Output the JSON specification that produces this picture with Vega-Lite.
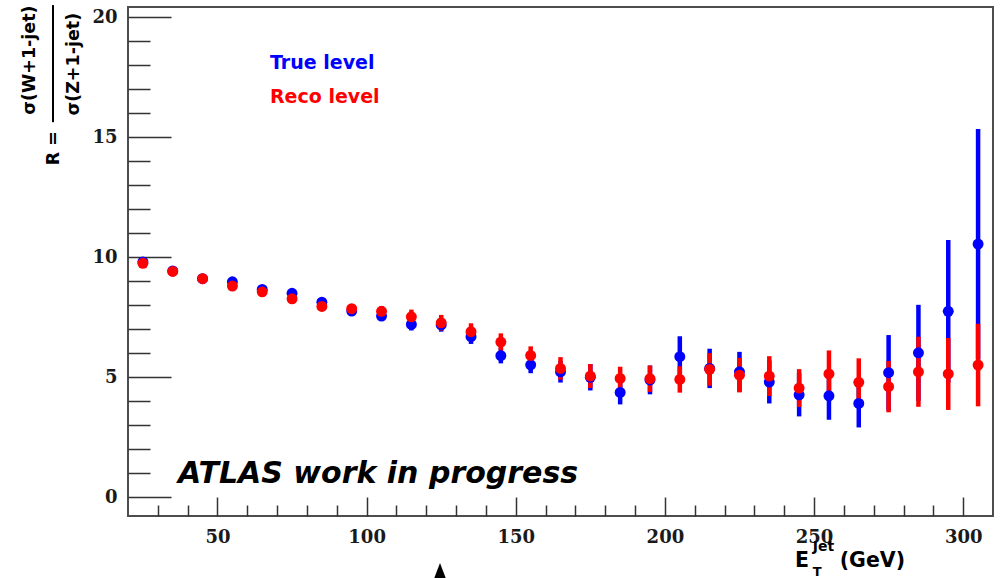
{
  "$schema": "https://vega.github.io/schema/vega-lite/v6.json",
  "width": 865,
  "height": 509,
  "autosize": {"type": "none"},
  "padding": {"left": 128, "top": 7, "right": 9, "bottom": 62},
  "background": "white",
  "config": {
    "view": {"stroke": "#4d4d4d", "strokeWidth": 2},
    "axis": {
      "domain": false,
      "grid": false,
      "tickColor": "#333333",
      "tickWidth": 1.5,
      "labelFont": "DejaVu Serif",
      "labelFontWeight": "bold",
      "labelFontSize": 18,
      "labelColor": "#1a1a1a"
    }
  },
  "data": {
    "values": [
      {"E": 25, "series": "True level", "R": 9.80, "err": 0.10},
      {"E": 35, "series": "True level", "R": 9.42, "err": 0.10},
      {"E": 45, "series": "True level", "R": 9.10, "err": 0.10},
      {"E": 55, "series": "True level", "R": 8.97, "err": 0.12},
      {"E": 65, "series": "True level", "R": 8.65, "err": 0.12},
      {"E": 75, "series": "True level", "R": 8.49, "err": 0.14},
      {"E": 85, "series": "True level", "R": 8.12, "err": 0.15},
      {"E": 95, "series": "True level", "R": 7.75, "err": 0.17},
      {"E": 105, "series": "True level", "R": 7.54, "err": 0.20},
      {"E": 115, "series": "True level", "R": 7.19, "err": 0.25},
      {"E": 125, "series": "True level", "R": 7.17, "err": 0.28},
      {"E": 135, "series": "True level", "R": 6.68, "err": 0.30},
      {"E": 145, "series": "True level", "R": 5.89, "err": 0.32},
      {"E": 155, "series": "True level", "R": 5.51, "err": 0.35},
      {"E": 165, "series": "True level", "R": 5.22, "err": 0.45},
      {"E": 175, "series": "True level", "R": 4.99, "err": 0.55},
      {"E": 185, "series": "True level", "R": 4.36, "err": 0.50},
      {"E": 195, "series": "True level", "R": 4.88, "err": 0.60},
      {"E": 205, "series": "True level", "R": 5.85, "err": 0.85},
      {"E": 215, "series": "True level", "R": 5.36, "err": 0.82},
      {"E": 225, "series": "True level", "R": 5.22, "err": 0.83},
      {"E": 235, "series": "True level", "R": 4.79, "err": 0.89},
      {"E": 245, "series": "True level", "R": 4.26, "err": 0.90},
      {"E": 255, "series": "True level", "R": 4.22, "err": 1.00},
      {"E": 265, "series": "True level", "R": 3.90, "err": 1.00},
      {"E": 275, "series": "True level", "R": 5.18, "err": 1.57},
      {"E": 285, "series": "True level", "R": 6.01, "err": 2.00},
      {"E": 295, "series": "True level", "R": 7.74, "err": 2.97},
      {"E": 305, "series": "True level", "R": 10.54, "err": 4.80},
      {"E": 25, "series": "Reco level", "R": 9.74, "err": 0.10},
      {"E": 35, "series": "Reco level", "R": 9.40, "err": 0.10},
      {"E": 45, "series": "Reco level", "R": 9.10, "err": 0.10},
      {"E": 55, "series": "Reco level", "R": 8.79, "err": 0.12},
      {"E": 65, "series": "Reco level", "R": 8.55, "err": 0.12},
      {"E": 75, "series": "Reco level", "R": 8.26, "err": 0.14},
      {"E": 85, "series": "Reco level", "R": 7.94, "err": 0.15},
      {"E": 95, "series": "Reco level", "R": 7.85, "err": 0.18},
      {"E": 105, "series": "Reco level", "R": 7.74, "err": 0.22},
      {"E": 115, "series": "Reco level", "R": 7.51, "err": 0.30},
      {"E": 125, "series": "Reco level", "R": 7.26, "err": 0.33},
      {"E": 135, "series": "Reco level", "R": 6.89, "err": 0.35},
      {"E": 145, "series": "Reco level", "R": 6.46, "err": 0.36},
      {"E": 155, "series": "Reco level", "R": 5.90, "err": 0.38},
      {"E": 165, "series": "Reco level", "R": 5.36, "err": 0.47},
      {"E": 175, "series": "Reco level", "R": 5.04, "err": 0.50},
      {"E": 185, "series": "Reco level", "R": 4.94, "err": 0.49},
      {"E": 195, "series": "Reco level", "R": 4.93, "err": 0.55},
      {"E": 205, "series": "Reco level", "R": 4.90, "err": 0.55},
      {"E": 215, "series": "Reco level", "R": 5.32, "err": 0.68},
      {"E": 225, "series": "Reco level", "R": 5.08, "err": 0.72},
      {"E": 235, "series": "Reco level", "R": 5.04, "err": 0.83},
      {"E": 245, "series": "Reco level", "R": 4.54, "err": 0.79},
      {"E": 255, "series": "Reco level", "R": 5.13, "err": 0.98},
      {"E": 265, "series": "Reco level", "R": 4.78, "err": 1.00},
      {"E": 275, "series": "Reco level", "R": 4.60, "err": 1.07},
      {"E": 285, "series": "Reco level", "R": 5.22, "err": 1.46},
      {"E": 295, "series": "Reco level", "R": 5.13, "err": 1.50},
      {"E": 305, "series": "Reco level", "R": 5.50, "err": 1.72}
    ]
  },
  "layer": [
    {
      "mark": {"type": "errorbar", "thickness": 4.5},
      "encoding": {
        "x": {
          "field": "E", "type": "quantitative",
          "scale": {"domain": [20, 310], "nice": false, "zero": false},
          "axis": {
            "title": null,
            "values": [30, 40, 50, 60, 70, 80, 90, 100, 110, 120, 130, 140, 150, 160, 170, 180, 190, 200, 210, 220, 230, 240, 250, 260, 270, 280, 290, 300],
            "tickCount": 1000,
            "format": "d",
            "tickSize": {"condition": {"test": "datum.value % 50 === 0", "value": -19}, "value": -11},
            "labelExpr": "datum.value % 50 === 0 ? datum.label : ''",
            "labelOverlap": false,
            "labelFlush": false,
            "labelPadding": 31,
            "labelAngle": 0
          }
        },
        "y": {
          "field": "R", "type": "quantitative",
          "scale": {"domain": [-0.79, 20.42], "nice": false, "zero": false},
          "axis": {
            "title": null,
            "values": [0, 1, 2, 3, 4, 5, 6, 7, 8, 9, 10, 11, 12, 13, 14, 15, 16, 17, 18, 19, 20],
            "tickCount": 1000,
            "format": "d",
            "tickSize": {"condition": {"test": "datum.value % 5 === 0", "value": -43}, "value": -22},
            "labelExpr": "datum.value % 5 === 0 ? datum.label : ''",
            "labelOverlap": false,
            "labelFlush": false,
            "labelPadding": 54
          }
        },
        "yError": {"field": "err"},
        "color": {
          "field": "series", "type": "nominal",
          "scale": {"domain": ["True level", "Reco level"], "range": ["#0000ff", "#ff0000"]},
          "legend": null
        }
      }
    },
    {
      "mark": {"type": "circle", "size": 120, "opacity": 1},
      "encoding": {
        "x": {"field": "E", "type": "quantitative"},
        "y": {"field": "R", "type": "quantitative"},
        "color": {"field": "series", "type": "nominal", "legend": null}
      }
    },
    {
      "data": {"values": [{"series": "True level"}]},
      "mark": {"type": "text", "font": "DejaVu Sans", "fontWeight": "bold", "fontSize": 19, "align": "left", "baseline": "alphabetic"},
      "encoding": {
        "x": {"datum": 67.6, "type": "quantitative"},
        "y": {"datum": 17.82, "type": "quantitative"},
        "text": {"field": "series"},
        "color": {"field": "series", "type": "nominal", "legend": null}
      }
    },
    {
      "data": {"values": [{"series": "Reco level"}]},
      "mark": {"type": "text", "font": "DejaVu Sans", "fontWeight": "bold", "fontSize": 19, "align": "left", "baseline": "alphabetic"},
      "encoding": {
        "x": {"datum": 67.6, "type": "quantitative"},
        "y": {"datum": 16.43, "type": "quantitative"},
        "text": {"field": "series"},
        "color": {"field": "series", "type": "nominal", "legend": null}
      }
    },
    {
      "data": {"values": [{"note": "ATLAS work in progress"}]},
      "mark": {"type": "text", "font": "DejaVu Sans", "fontWeight": "bold", "fontStyle": "italic", "fontSize": 30, "align": "left", "baseline": "alphabetic", "color": "#000000"},
      "encoding": {
        "x": {"datum": 36.8, "type": "quantitative"},
        "y": {"datum": 0.6, "type": "quantitative"},
        "text": {"field": "note"}
      }
    },
    {
      "data": {"values": [{"t": "σ(W+1-jet)"}]},
      "mark": {"type": "text", "font": "DejaVu Sans", "fontWeight": "bold", "fontSize": 17.5, "angle": 270, "align": "center", "baseline": "middle", "color": "#000000"},
      "encoding": {
        "x": {"datum": -12.8, "type": "quantitative"},
        "y": {"datum": 18.21, "type": "quantitative"},
        "text": {"field": "t"}
      }
    },
    {
      "data": {"values": [{"t": "σ(Z+1-jet)"}]},
      "mark": {"type": "text", "font": "DejaVu Sans", "fontWeight": "bold", "fontSize": 17.5, "angle": 270, "align": "center", "baseline": "middle", "color": "#000000"},
      "encoding": {
        "x": {"datum": 2.0, "type": "quantitative"},
        "y": {"datum": 18.04, "type": "quantitative"},
        "text": {"field": "t"}
      }
    },
    {
      "data": {"values": [{"t": "R ="}]},
      "mark": {"type": "text", "font": "DejaVu Sans", "fontWeight": "bold", "fontSize": 17.5, "angle": 270, "align": "center", "baseline": "middle", "color": "#000000"},
      "encoding": {
        "x": {"datum": -4.8, "type": "quantitative"},
        "y": {"datum": 14.54, "type": "quantitative"},
        "text": {"field": "t"}
      }
    },
    {
      "data": {"values": [{}]},
      "mark": {"type": "rule", "color": "#000000", "strokeWidth": 2},
      "encoding": {
        "x": {"datum": -5.14, "type": "quantitative"},
        "y": {"datum": 20.5, "type": "quantitative"},
        "y2": {"datum": 15.62}
      }
    },
    {
      "data": {"values": [{"t": "E"}]},
      "mark": {"type": "text", "font": "DejaVu Sans", "fontWeight": "bold", "fontSize": 20.5, "align": "left", "baseline": "alphabetic", "color": "#000000"},
      "encoding": {
        "x": {"datum": 243.6, "type": "quantitative"},
        "y": {"datum": -2.92, "type": "quantitative"},
        "text": {"field": "t"}
      }
    },
    {
      "data": {"values": [{"t": "Jet"}]},
      "mark": {"type": "text", "font": "DejaVu Sans", "fontWeight": "bold", "fontSize": 14, "align": "left", "baseline": "alphabetic", "color": "#000000"},
      "encoding": {
        "x": {"datum": 249.6, "type": "quantitative"},
        "y": {"datum": -2.25, "type": "quantitative"},
        "text": {"field": "t"}
      }
    },
    {
      "data": {"values": [{"t": "T"}]},
      "mark": {"type": "text", "font": "DejaVu Sans", "fontWeight": "bold", "fontSize": 13, "align": "left", "baseline": "alphabetic", "color": "#000000"},
      "encoding": {
        "x": {"datum": 249.6, "type": "quantitative"},
        "y": {"datum": -3.27, "type": "quantitative"},
        "text": {"field": "t"}
      }
    },
    {
      "data": {"values": [{"t": "(GeV)"}]},
      "mark": {"type": "text", "font": "DejaVu Sans", "fontWeight": "bold", "fontSize": 20.5, "align": "left", "baseline": "alphabetic", "color": "#000000"},
      "encoding": {
        "x": {"datum": 258.6, "type": "quantitative"},
        "y": {"datum": -2.92, "type": "quantitative"},
        "text": {"field": "t"}
      }
    },
    {
      "data": {"values": [{}]},
      "mark": {"type": "point", "shape": "M0,-1L0.76,1L-0.76,1Z", "size": 676, "filled": true, "color": "#000000", "opacity": 1},
      "encoding": {
        "x": {"datum": 124.6, "type": "quantitative"},
        "y": {"datum": -3.29, "type": "quantitative"}
      }
    }
  ]
}
